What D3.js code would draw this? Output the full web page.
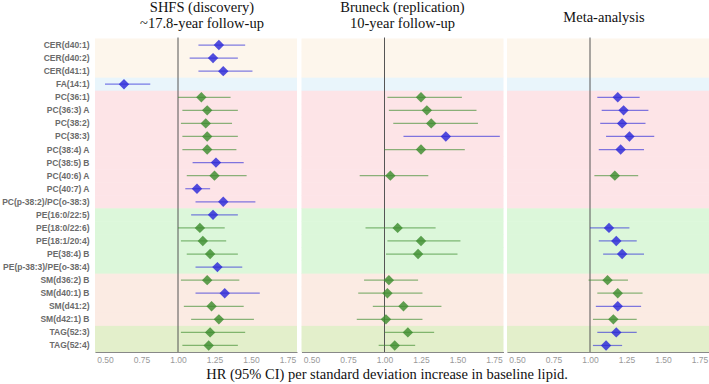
<!DOCTYPE html>
<html>
<head>
<meta charset="utf-8">
<script src="https://cdn.jsdelivr.net/npm/d3@7"></script>
<style>
    body { margin: 0; background: #fff; }
    text.serif, .serif tspan { font-family: "Liberation Serif", "DejaVu Serif", serif; }
    text.sans { font-family: "Liberation Sans", Arial, sans-serif; }
</style>
</head>
<body>
<script>
// lipid species, top to bottom
const lipids = [
    "CER(d40:1)", "CER(d40:2)", "CER(d41:1)", "FA(14:1)",
    "PC(36:1)", "PC(36:3) A", "PC(38:2)", "PC(38:3)", "PC(38:4) A", "PC(38:5) B",
    "PC(40:6) A", "PC(40:7) A", "PC(p-38:2)/PC(o-38:3)",
    "PE(16:0/22:5)", "PE(18:0/22:6)", "PE(18:1/20:4)", "PE(38:4) B", "PE(p-38:3)/PE(o-38:4)",
    "SM(d36:2) B", "SM(d40:1) B", "SM(d41:2)", "SM(d42:1) B",
    "TAG(52:3)", "TAG(52:4)"
];

// SHFS (discovery)
const shfsHR = [1.28, 1.24, 1.31, 0.63, 1.16, 1.20, 1.19, 1.20, 1.20, 1.26, 1.25, 1.13, 1.31,
    1.24, 1.15, 1.17, 1.22, 1.27, 1.20, 1.32, 1.23, 1.28, 1.22, 1.21];
const shfsLo = [1.14, 1.08, 1.14, 0.50, 1.00, 1.03, 1.02, 1.03, 1.03, 1.10, 1.06, 1.05, 1.12,
    1.09, 1.00, 1.02, 1.06, 1.12, 1.02, 1.12, 1.04, 1.09, 1.02, 1.03];
const shfsHi = [1.46, 1.41, 1.51, 0.81, 1.36, 1.41, 1.37, 1.41, 1.40, 1.45, 1.47, 1.22, 1.53,
    1.41, 1.32, 1.33, 1.41, 1.44, 1.42, 1.56, 1.45, 1.52, 1.46, 1.41];
const shfsSig = ["b", "b", "b", "b", "g", "g", "g", "g", "g", "b", "g", "b", "b",
    "b", "g", "g", "g", "b", "g", "b", "g", "g", "g", "g"];

// Bruneck (replication)
const brunHR = [null, null, null, null, 1.25, 1.29, 1.32, 1.42, 1.25, null, 1.04, null, null,
    null, 1.09, 1.25, 1.23, null, 1.03, 1.02, 1.13, 1.01, 1.16, 1.07];
const brunLo = [null, null, null, null, 1.02, 1.03, 1.06, 1.13, 1.00, null, 0.83, null, null,
    null, 0.87, 1.02, 1.01, null, 0.86, 0.82, 0.92, 0.81, 1.00, 0.96];
const brunHi = [null, null, null, null, 1.53, 1.63, 1.64, 1.79, 1.55, null, 1.30, null, null,
    null, 1.35, 1.52, 1.50, null, 1.23, 1.26, 1.39, 1.26, 1.34, 1.21];
const brunSig = [null, null, null, null, "g", "g", "g", "b", "g", null, "g", null, null,
    null, "g", "g", "g", null, "g", "g", "g", "g", "g", "g"];

// Meta-analysis
const metaHR = [null, null, null, null, 1.19, 1.23, 1.22, 1.27, 1.21, null, 1.17, null, null,
    null, 1.13, 1.18, 1.22, null, 1.12, 1.19, 1.19, 1.16, 1.18, 1.11];
const metaLo = [null, null, null, null, 1.05, 1.08, 1.07, 1.11, 1.06, null, 1.03, null, null,
    null, 1.00, 1.06, 1.09, null, 0.99, 1.05, 1.04, 1.02, 1.05, 1.02];
const metaHi = [null, null, null, null, 1.34, 1.40, 1.38, 1.44, 1.37, null, 1.33, null, null,
    null, 1.27, 1.32, 1.37, null, 1.26, 1.36, 1.35, 1.32, 1.32, 1.22];
const metaSig = [null, null, null, null, "b", "b", "b", "b", "b", null, "g", null, null,
    null, "b", "b", "b", null, "g", "g", "b", "g", "b", "b"];

const panelTitles = [
    ["SHFS (discovery)", "~17.8-year follow-up"],
    ["Bruneck (replication)", "10-year follow-up"],
    ["Meta-analysis"]
];
const tickValues = [0.50, 0.75, 1.00, 1.25, 1.50, 1.75];
const xLabel = "HR (95% CI) per standard deviation increase in baseline lipid.";

window.onload = function () {
    const width = 709,
        height = 384,
        top = 38.5,
        bottom = 352,
        panelW = 202,
        panelX = [95, 301.5, 507];

    const bandColor = {
        CER: "#fdf6ec",
        FA: "#e9f5fb",
        PC: "#fde4e7",
        PE: "#dcf7da",
        SM: "#fbebe3",
        TAG: "#e3efcb"
    };
    const markColor = {b: "#2b28d8", g: "#3d8c2e"};

    const panels = [
        {hr: shfsHR, lo: shfsLo, hi: shfsHi, sig: shfsSig},
        {hr: brunHR, lo: brunLo, hi: brunHi, sig: brunSig},
        {hr: metaHR, lo: metaLo, hi: metaHi, sig: metaSig}
    ];

    const y = d3.scaleBand()
        .domain(lipids)
        .range([top, bottom]);

    const svg = d3.select("body").append("svg")
        .attr("width", width)
        .attr("height", height);

    // row labels
    svg.append("g")
        .selectAll("text")
        .data(lipids)
        .enter().append("text")
        .attr("class", "sans")
        .attr("x", 89.5)
        .attr("y", (d) => y(d) + y.bandwidth() / 2)
        .attr("dy", "0.35em")
        .attr("text-anchor", "end")
        .attr("font-weight", "bold")
        .attr("font-size", "8.5px")
        .attr("fill", "#6b6b6b")
        .text((d) => d);

    panels.forEach(function (p, k) {
        const x = d3.scaleLinear()
            .domain([0.4315, 0.4315 + panelW / 146])
            .range([panelX[k], panelX[k] + panelW]);

        const g = svg.append("g");

        // class background bands
        g.selectAll("rect")
            .data(lipids)
            .enter().append("rect")
            .attr("x", panelX[k])
            .attr("width", panelW)
            .attr("y", (d) => y(d))
            .attr("height", y.bandwidth() + 0.5)
            .attr("fill", (d) => bandColor[d.split("(")[0]]);

        // reference line at HR = 1
        g.append("line")
            .attr("x1", x(1)).attr("x2", x(1))
            .attr("y1", top - 1).attr("y2", bottom)
            .attr("stroke", "#555")
            .attr("stroke-width", 1);

        // bottom axis
        const axis = g.append("g")
            .attr("transform", "translate(0," + bottom + ")")
            .call(d3.axisBottom(x).tickValues(tickValues).tickFormat(d3.format(".2f")).tickSize(0).tickPadding(5));
        axis.attr("font-family", null);
        axis.select(".domain").attr("stroke", "#888");
        axis.selectAll("text")
            .attr("class", "sans")
            .attr("font-size", "8.5px")
            .attr("fill", "#999");

        const rows = lipids.map((d, i) => ({name: d, hr: p.hr[i], lo: p.lo[i], hi: p.hi[i], sig: p.sig[i]}))
            .filter((d) => d.hr !== null);

        // confidence intervals
        g.selectAll(".ci")
            .data(rows)
            .enter().append("line")
            .attr("x1", (d) => x(d.lo))
            .attr("x2", (d) => x(d.hi))
            .attr("y1", (d) => y(d.name) + y.bandwidth() / 2)
            .attr("y2", (d) => y(d.name) + y.bandwidth() / 2)
            .attr("stroke", (d) => markColor[d.sig])
            .attr("stroke-opacity", 0.6)
            .attr("stroke-width", 1.2);

        // point estimates
        g.selectAll(".pt")
            .data(rows)
            .enter().append("path")
            .attr("d", "M0,-5.2L5.2,0L0,5.2L-5.2,0Z")
            .attr("transform", (d) => "translate(" + x(d.hr) + "," + (y(d.name) + y.bandwidth() / 2) + ")")
            .attr("fill", (d) => markColor[d.sig])
            .attr("fill-opacity", 0.82);

        // panel titles
        const tx = panelX[k] + panelW / 2 + (k === 0 ? 6 : 0) - (k === 2 ? 4 : 0);
        const lines = panelTitles[k];
        svg.append("text")
            .attr("class", "serif")
            .attr("font-size", "14.5px")
            .attr("fill", "#111")
            .attr("text-anchor", "middle")
            .selectAll("tspan")
            .data(lines)
            .enter().append("tspan")
            .attr("x", tx)
            .attr("y", (d, i) => lines.length === 1 ? 21.5 : 11.5 + i * 16)
            .text((d) => d);
    });

    svg.append("text")
        .attr("class", "serif")
        .attr("x", 387)
        .attr("y", 379)
        .attr("text-anchor", "middle")
        .attr("font-size", "14.5px")
        .attr("fill", "#111")
        .text(xLabel);
}
</script>
</body>
</html>
